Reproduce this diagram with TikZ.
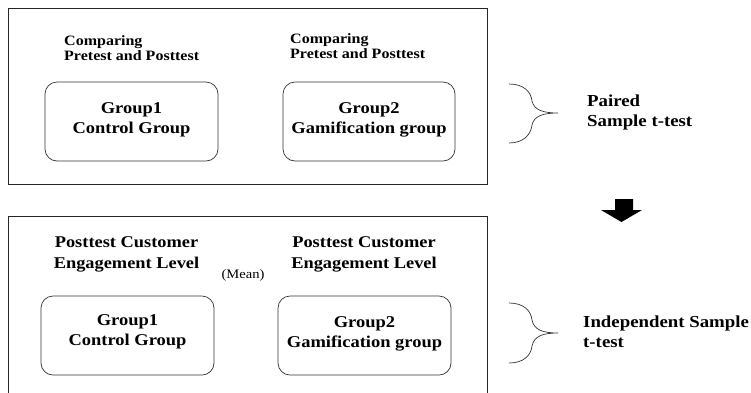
\documentclass[tikz,border=0pt]{standalone}
\usepackage{fontspec}
\setmainfont[FakeStretch=1.12]{Liberation Serif}
\begin{document}
\begin{tikzpicture}[x=1pt,y=-1pt,
  frame/.style={draw=black!85, line width=0.8pt},
  groupbox/.style={draw=black!80, line width=0.7pt, rounded corners=12pt},
  grouptext/.style={font=\bfseries\fontsize{16.5}{20}\selectfont, align=center},
  labeltext/.style={font=\bfseries\fontsize{14.3}{15}\selectfont, align=left, anchor=west, inner sep=0pt},
  headtext/.style={font=\bfseries\fontsize{16.4}{21}\selectfont, align=center},
  brace/.style={draw=black!80, line width=0.7pt},
  testtext/.style={font=\bfseries\fontsize{16.8}{20}\selectfont, align=left, anchor=west, inner sep=0pt}]
\useasboundingbox (0,0) rectangle (751,392);
\clip (0,0) rectangle (751,392);

% upper panel: paired comparisons
\draw[frame] (8,8) rectangle (487,184);
\node[labeltext] (cmpA) at (64,48) {Comparing\\Pretest and Posttest};
\node[labeltext] (cmpB) at (290,46) {Comparing\\Pretest and Posttest};
\node[groupbox, minimum width=173pt, minimum height=79pt] (g1top) at (131.5,121.5) {};
\node[grouptext] at (131.5,119.5) {Group1\\Control Group};
\node[groupbox, minimum width=172pt, minimum height=79pt] (g2top) at (369,121.5) {};
\node[grouptext] at (369,120) {Group2\\Gamification group};

% paired brace and label
\coordinate (pbT) at (509,84);
\coordinate (pbM) at (558,113);
\coordinate (pbB) at (509,143);
\draw[brace] (pbT) .. controls (524,84) and (531,92) .. (532,101)
  .. controls (534,110) and (543,113) .. (pbM)
  .. controls (543,113) and (534,116) .. (532,125)
  .. controls (531,134) and (524,143) .. (pbB);
\node[testtext] (paired) at (587,112.5) {Paired\\Sample t-test};

% block arrow between the two steps
\fill (615,199) -- (633,199) -- (633,210) -- (642,210) -- (621.5,222) -- (601,210) -- (615,210) -- cycle;

% lower panel: independent comparison
\draw[frame] (8,216) rectangle (487,400);
\node[headtext] (postA) at (126.5,254.5) {Posttest Customer\\Engagement Level};
\node[headtext] (postB) at (364,254.5) {Posttest Customer\\Engagement Level};
\node[font=\fontsize{13}{14}\selectfont] (mean) at (243,275) {(Mean)};
\node[groupbox, minimum width=173pt, minimum height=79pt] (g1bot) at (127.5,335.5) {};
\node[grouptext] at (127.5,332) {Group1\\Control Group};
\node[groupbox, minimum width=173pt, minimum height=79pt] (g2bot) at (364.5,335.5) {};
\node[grouptext] at (364.5,334) {Group2\\Gamification group};

% independent brace and label
\coordinate (ibT) at (509,303);
\coordinate (ibM) at (558,333);
\coordinate (ibB) at (509,363);
\draw[brace] (ibT) .. controls (524,303) and (531,311) .. (532,320)
  .. controls (534,330) and (543,333) .. (ibM)
  .. controls (543,333) and (534,336) .. (532,346)
  .. controls (531,355) and (524,363) .. (ibB);
\node[testtext] (indep) at (583,331.5) {Independent Sample\\t-test};
\end{tikzpicture}
\end{document}
